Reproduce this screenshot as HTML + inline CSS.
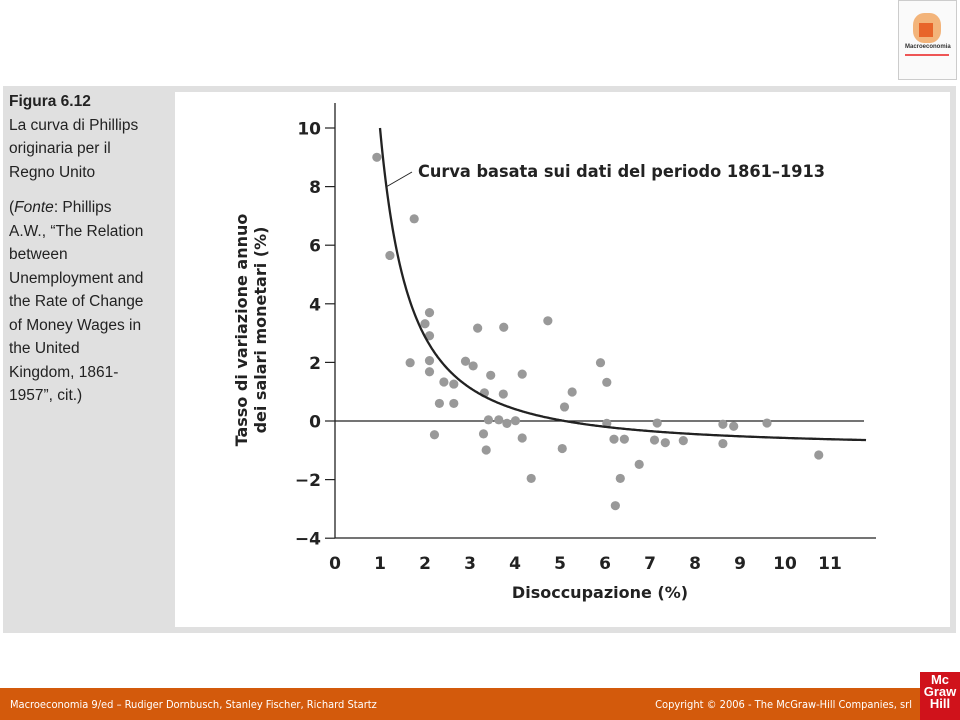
<!DOCTYPE html>
<html><head><meta charset="utf-8">
<style>
body{margin:0;width:960px;height:720px;background:#fff;position:relative;overflow:hidden;font-family:"Liberation Sans",sans-serif;}
#frame{position:absolute;left:3px;top:86px;width:953px;height:547px;background:#e0e0e0;}
#panel{position:absolute;left:175px;top:92px;width:775px;height:535px;background:#fff;}
#side{position:absolute;left:9px;top:90px;width:165px;font-size:15.5px;line-height:23.5px;color:#222;white-space:nowrap;}
#footer{position:absolute;left:0;top:688px;width:960px;height:32px;background:#d35a0c;color:#fff;font-family:"DejaVu Sans Condensed","Liberation Sans Narrow",sans-serif;font-size:11px;}
#logo{position:absolute;left:920px;top:672px;width:40px;height:48px;background:#d0121b;color:#fff;font:bold 13px/12px "Liberation Sans Narrow","Liberation Sans",sans-serif;text-align:center;padding-top:2px;box-sizing:border-box;}
#book{position:absolute;left:898px;top:0;width:57px;height:78px;border:1px solid #ccc;background:#fafafa;}
</style></head><body>
<div id="book">
 <div style="position:absolute;left:14px;top:12px;width:28px;height:30px;background:#f3b47a;border-radius:40%"></div>
 <div style="position:absolute;left:20px;top:22px;width:14px;height:14px;background:#e8652a"></div>
 <div style="position:absolute;left:6px;top:43px;font:bold 6px 'Liberation Sans',sans-serif;color:#333">Macroeconomia</div>
 <div style="position:absolute;left:6px;top:53px;width:44px;height:2px;background:#e55"></div>
</div>
<div id="frame"></div>
<div id="panel"></div>
<div id="side">
<b>Figura 6.12</b><br>La curva di Phillips<br>originaria per il<br>Regno Unito
<div style="margin-top:12px">(<i>Fonte</i>: Phillips<br>A.W., “The Relation<br>between<br>Unemployment and<br>the Rate of Change<br>of Money Wages in<br>the United<br>Kingdom, 1861-<br>1957”, cit.)</div>
</div>
<svg id="chart" width="960" height="720" style="position:absolute;left:0;top:0"></svg>
<div id="footer">
 <span style="position:absolute;left:10px;top:10px">Macroeconomia 9/ed – Rudiger Dornbusch, Stanley Fischer, Richard Startz</span>
 <span style="position:absolute;right:48px;top:10px">Copyright © 2006 - The McGraw-Hill Companies, srl</span>
</div>
<div id="logo">Mc<br>Graw<br>Hill</div>
<script>
const xTicks=[0,1,2,3,4,5,6,7,8,9,10,11];
const yTicks=[-4,-2,0,2,4,6,8,10];
const unemployment=[0.93,1.76,1.22,2.1,2.0,2.1,1.67,2.1,2.1,2.42,2.64,2.32,2.64,2.21,3.17,3.75,2.9,3.07,3.46,4.16,3.32,3.74,3.41,3.64,3.82,4.01,3.3,3.36,4.16,4.36,4.73,5.05,5.1,5.27,5.9,6.04,6.04,6.2,6.43,6.34,6.23,6.76,7.16,7.1,7.34,7.74,8.62,8.86,8.62,9.6,10.75];
const wageChange=[9.0,6.9,5.65,3.7,3.32,2.91,1.99,2.06,1.68,1.33,1.26,0.6,0.6,-0.47,3.17,3.2,2.04,1.88,1.56,1.6,0.96,0.92,0.04,0.04,-0.08,0.01,-0.44,-0.99,-0.58,-1.96,3.42,-0.94,0.48,0.99,1.99,1.32,-0.08,-0.62,-0.62,-1.96,-2.89,-1.48,-0.07,-0.65,-0.74,-0.67,-0.11,-0.18,-0.77,-0.07,-1.16];
const curveA=-0.9, curveB=10.9, curveC=-1.53;
const NS="http://www.w3.org/2000/svg";
const svg=document.getElementById('chart');
const X=v=>335+v*45, Y=v=>421-v*29.3;
function mk(t,a){const e=document.createElementNS(NS,t);for(const k in a)e.setAttribute(k,a[k]);svg.appendChild(e);return e;}
const font='"DejaVu Sans","Liberation Sans",sans-serif';
let e;
e=mk('line',{x1:335,y1:103,x2:335,y2:538,stroke:'#222','stroke-width':1.3});


e=mk('line',{x1:335,y1:538,x2:876,y2:538,stroke:'#222','stroke-width':1.3});


e=mk('line',{x1:335,y1:Y(0),x2:864,y2:Y(0),stroke:'#222','stroke-width':1.2});


yTicks.forEach(v=>{
 e=mk('line',{x1:325,y1:Y(v),x2:335,y2:Y(v),stroke:'#222','stroke-width':1.2});
 
 
 e=mk('text',{x:321,y:Y(v)+6.5,'text-anchor':'end','font-size':17,'font-weight':'bold','font-family':font,fill:'#222'});
 e.textContent=v<0?'\u2212'+(-v):v;
 
 
});
xTicks.forEach(v=>{
 e=mk('text',{x:X(v),y:569,'text-anchor':'middle','font-size':17,'font-weight':'bold','font-family':font,fill:'#222'});
 e.textContent=v;
 
 
});
e=mk('text',{x:600,y:598,'text-anchor':'middle','font-size':16,'font-weight':'bold','font-family':font,fill:'#222'});
e.textContent='Disoccupazione (%)';


const g=mk('g',{transform:'translate(247,330) rotate(-90)'});


['Tasso di variazione annuo','dei salari monetari (%)'].forEach((s,i)=>{
 const t=document.createElementNS(NS,'text');
 t.setAttribute('x',0);t.setAttribute('y',i*19);t.setAttribute('text-anchor','middle');
 t.setAttribute('font-size',16);t.setAttribute('font-weight','bold');t.setAttribute('font-family',font);t.setAttribute('fill','#222');
 t.textContent=s;g.appendChild(t);
});
unemployment.forEach((u,i)=>{
 e=mk('circle',{cx:X(u),cy:Y(wageChange[i]),r:4.6,fill:'#999'});
 
 
});
let d='';
for(let x=1;x<=11.8;x+=0.02){const y=curveA+curveB*Math.pow(x,curveC);d+=(d?'L':'M')+X(x).toFixed(1)+','+Y(y).toFixed(1);}
e=mk('path',{d:d,fill:'none',stroke:'#222','stroke-width':2.3});


e=mk('line',{x1:386,y1:187,x2:412,y2:172,stroke:'#222','stroke-width':1});


e=mk('text',{x:418,y:177,'font-size':17,'font-weight':'bold','font-family':font,fill:'#222',textLength:407,lengthAdjust:'spacingAndGlyphs'});
e.textContent='Curva basata sui dati del periodo 1861–1913';


</script>
</body></html>
